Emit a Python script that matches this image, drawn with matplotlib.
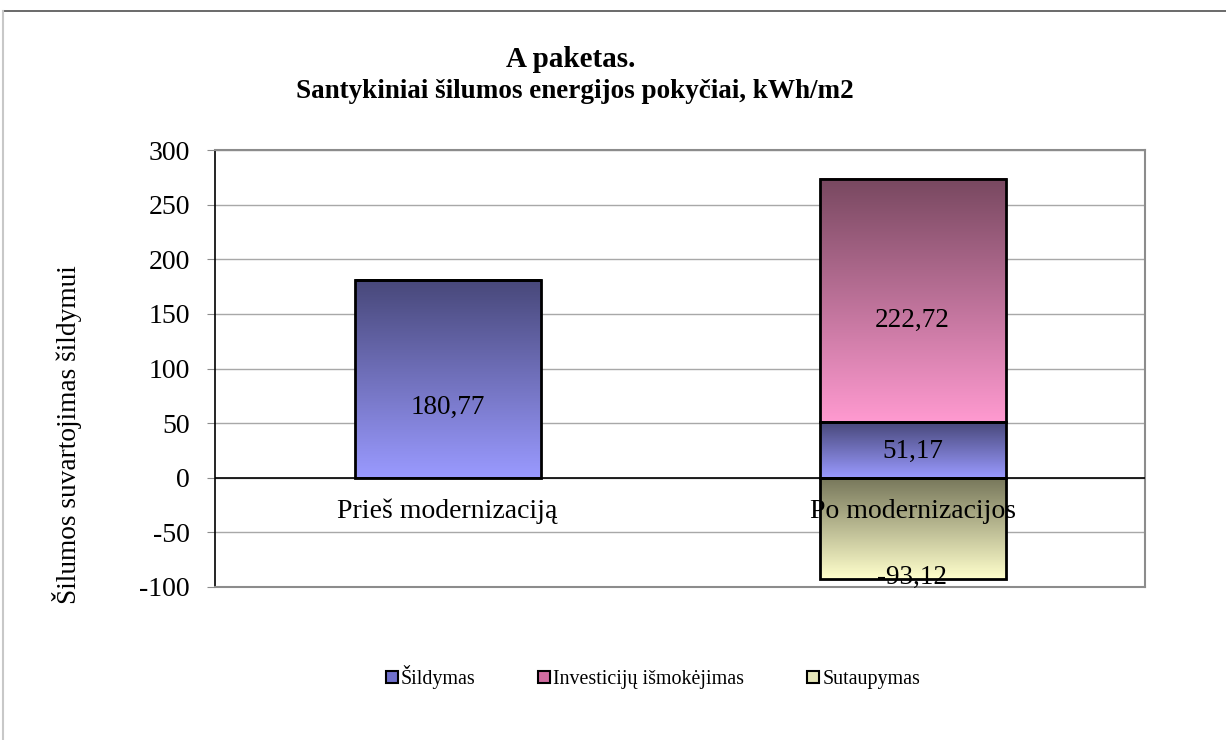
import numpy as np
import matplotlib
matplotlib.use("Agg")
import matplotlib.pyplot as plt
from matplotlib.patches import Patch
from matplotlib.colors import LinearSegmentedColormap
from matplotlib.lines import Line2D

plt.rcParams['font.family'] = ['Liberation Serif', 'DejaVu Serif']

title = "A paketas."
subtitle = "Santykiniai šilumos energijos pokyčiai, kWh/m2"
ylabel = "Šilumos suvartojimas šildymui"
categories = ["Prieš modernizaciją", "Po modernizacijos"]
series_names = ["Šildymas", "Investicijų išmokėjimas", "Sutaupymas"]
sildymas = [180.77, 51.17]
investicijos = [0.0, 222.72]
sutaupymas = [0.0, -93.12]
value_labels = [["180,77", "51,17"], ["", "222,72"], ["", "-93,12"]]
yticks = [-100, -50, 0, 50, 100, 150, 200, 250, 300]

# styles
grad = {
    "Šildymas": ("#48487a", "#9a9aff"),
    "Investicijų išmokėjimas": ("#784860", "#ff9ad0"),
    "Sutaupymas": ("#76765a", "#ffffcc"),
}
legend_cols = ["#7070cc", "#d06ca0", "#e6e6b8"]
# label offsets (pixels) from segment centre, per series per category
label_off = [[-28, -2], [0, -20], [0, -49]]

W, H = 1226, 740
fig = plt.figure(figsize=(W / 100, H / 100), dpi=100)
ax = fig.add_axes([215 / W, 1 - 587 / H, (1145 - 215) / W, (587 - 150) / H])

x = np.arange(len(categories))
width = 0.4
series = [sildymas, investicijos, sutaupymas]
pos_base = np.zeros(len(categories))
neg_base = np.zeros(len(categories))
for si, (name, vals) in enumerate(zip(series_names, series)):
    vals = np.array(vals)
    bottoms = np.where(vals >= 0, pos_base, neg_base)
    bars = ax.bar(x, vals, width, bottom=bottoms, facecolor="none",
                  edgecolor="black", linewidth=2, zorder=4)
    top_c, bot_c = grad[name]
    cmap = LinearSegmentedColormap.from_list(name, [bot_c, top_c])
    for ci, b in enumerate(bars):
        if vals[ci] == 0:
            continue
        x0, y0 = b.get_x(), b.get_y()
        w, h = b.get_width(), b.get_height()
        ylo, yhi = min(y0, y0 + h), max(y0, y0 + h)
        g = np.linspace(0, 1, 256).reshape(-1, 1)
        ax.imshow(g, cmap=cmap, origin="lower", aspect="auto",
                  extent=[x0, x0 + w, ylo, yhi], zorder=3, interpolation="bicubic")
        lab = value_labels[si][ci]
        if lab:
            ax.annotate(lab, (x[ci], (ylo + yhi) / 2), xytext=(0, label_off[si][ci] * 0.72),
                        textcoords="offset points", ha="center", va="center",
                        fontsize=19.5, zorder=6)
    pos_base = pos_base + np.where(vals > 0, vals, 0)
    neg_base = neg_base + np.where(vals < 0, vals, 0)

ax.set_xlim(-0.5, len(categories) - 0.5)
ax.set_ylim(yticks[0], yticks[-1])
ax.set_yticks(yticks)
ax.set_yticklabels([str(t) for t in yticks], fontsize=20)
ax.set_xticks([])
ax.grid(axis="y", color="#a8a8a8", linewidth=1, zorder=0)
ax.set_axisbelow(True)
ax.axhline(0, color="black", linewidth=1.2, zorder=5)
for s in ["top", "right", "bottom"]:
    ax.spines[s].set_color("#8c8c8c")
    ax.spines[s].set_linewidth(1.5)
ax.spines["left"].set_color("black")
ax.spines["left"].set_linewidth(1.2)
ax.tick_params(axis="y", length=6, color="#8c8c8c", pad=12)

for ci, cat in enumerate(categories):
    ax.annotate(cat, (x[ci], 0), xytext=(0, -34 * 0.72), textcoords="offset points",
                ha="center", va="center", fontsize=20, zorder=7)

fig.text(571 / W, 1 - 67 / H, title, ha="center", va="baseline", fontsize=21, fontweight="bold")
fig.text(575 / W, 1 - 98 / H, subtitle, ha="center", va="baseline", fontsize=19.5, fontweight="bold")
fig.text(67 / W, 1 - 435 / H, ylabel, ha="center", va="center", rotation=90, fontsize=19.7)

handles = [Patch(facecolor=c, edgecolor="black", linewidth=1.5) for c in legend_cols]
fig.legend(handles, series_names, loc="center", bbox_to_anchor=(653 / W, 1 - 677 / H),
           ncol=3, frameon=False, fontsize=14.4, handlelength=0.6, handleheight=0.6,
           handletextpad=0.15, columnspacing=3.15, borderpad=0, borderaxespad=0)

# page frame lines
fig.add_artist(Line2D([3 / W, 1], [1 - 11 / H, 1 - 11 / H], color="#505050", linewidth=1.2))
fig.add_artist(Line2D([3 / W, 3 / W], [0, 1 - 11 / H], color="#c8c8c8", linewidth=1.5))

fig.savefig("out.png", dpi=100)
